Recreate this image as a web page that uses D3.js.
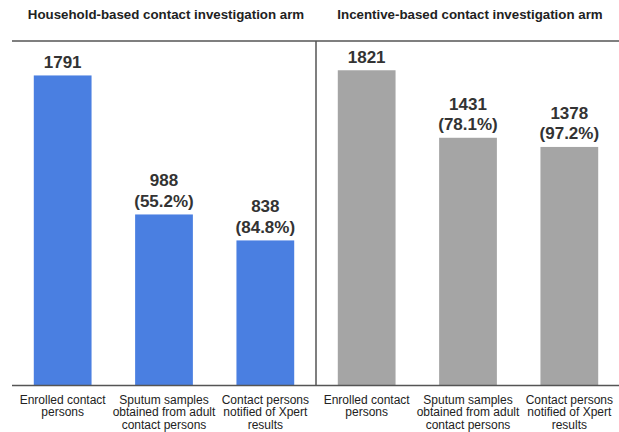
<!DOCTYPE html>
<html><head><meta charset="utf-8">
<script src="https://cdn.jsdelivr.net/npm/d3@7"></script>
<style>body{margin:0;background:#fff}svg{display:block}text{font-family:"Liberation Sans",Arial,sans-serif}</style>
</head><body>
<svg id="c" width="619" height="432"></svg>
<script>
const categories = ["Enrolled contact persons", "Sputum samples obtained from adult contact persons", "Contact persons notified of Xpert results"];
const categoryLines = [["Enrolled contact","persons"],["Sputum samples","obtained from adult","contact persons"],["Contact persons","notified of Xpert","results"]];
const panelTitles = ["Household-based contact investigation arm", "Incentive-based contact investigation arm"];
const householdValues = [1791, 988, 838];
const householdPct = [null, "55.2%", "84.8%"];
const incentiveValues = [1821, 1431, 1378];
const incentivePct = [null, "78.1%", "97.2%"];
const colors = ["#4a7fe1", "#a5a5a5"];

const svg = d3.select("#c");
const plotTop = 41, plotBase = 385.5;
const y = d3.scaleLinear().domain([0, 1990]).range([plotBase, plotTop]);
const panels = [
  {title: panelTitles[0], values: householdValues, pct: householdPct, color: colors[0], x0: 12, x1: 316},
  {title: panelTitles[1], values: incentiveValues, pct: incentivePct, color: colors[1], x0: 316, x1: 620}
];

panels.forEach(p => {
  const x = d3.scaleBand().domain(categories).range([p.x0, p.x1]).paddingInner(0.43).paddingOuter(0.215);
  const g = svg.append("g");
  g.append("text").attr("x", (p.x0 + p.x1) / 2 + 2).attr("y", 19).attr("text-anchor", "middle")
    .attr("font-size", 13.3).attr("font-weight", "bold").attr("fill", "#222").text(p.title);
  g.selectAll("rect").data(p.values).join("rect")
    .attr("x", (d, i) => x(categories[i])).attr("width", x.bandwidth())
    .attr("y", d => y(d)).attr("height", d => plotBase - y(d)).attr("fill", p.color);
  p.values.forEach((v, i) => {
    const cx = x(categories[i]) + x.bandwidth() / 2;
    const t = g.append("text").attr("text-anchor", "middle").attr("font-size", 17).attr("font-weight", "bold").attr("fill", "#333");
    if (p.pct[i]) {
      t.append("tspan").attr("x", cx).attr("y", y(v) - 28).text(v);
      t.append("tspan").attr("x", cx).attr("y", y(v) - 7.5).text("(" + p.pct[i] + ")");
    } else {
      t.append("tspan").attr("x", cx).attr("y", y(v) - 7.5).text(v);
    }
    const lt = g.append("text").attr("text-anchor", "middle").attr("font-size", 12).attr("fill", "#222");
    categoryLines[i].forEach((ln, k) => lt.append("tspan").attr("x", cx).attr("y", 403.5 + k * 12.5).text(ln));
  });
});

svg.append("line").attr("x1", 12).attr("x2", 619).attr("y1", plotTop).attr("y2", plotTop).attr("stroke", "#555").attr("stroke-width", 1.5);
svg.append("line").attr("x1", 12).attr("x2", 619).attr("y1", plotBase).attr("y2", plotBase).attr("stroke", "#555").attr("stroke-width", 1.5);
svg.append("line").attr("x1", 316).attr("x2", 316).attr("y1", plotTop).attr("y2", plotBase).attr("stroke", "#555").attr("stroke-width", 1.5);
</script>
</body></html>
